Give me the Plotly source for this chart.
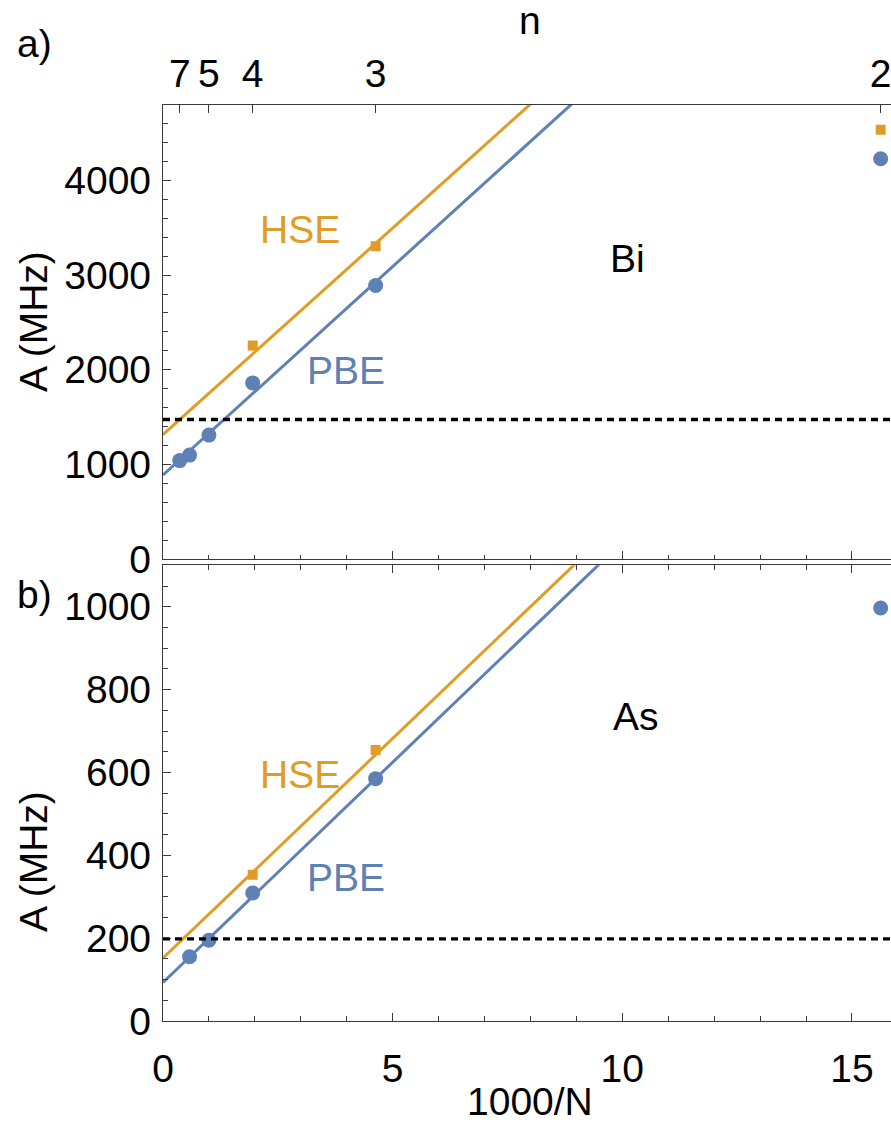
import plotly.graph_objects as go

# Hyperfine constant A (MHz) versus supercell size N (atoms), N = 8 n^3
bi_pbe_N = [2744, 1728, 1000, 512, 216, 64]
bi_pbe_A = [1042, 1100, 1311, 1862, 2890, 4228]
bi_hse_N = [512, 216, 64]
bi_hse_A = [2256, 3305, 4534]

as_pbe_N = [1728, 1000, 512, 216, 64]
as_pbe_A = [155, 195, 309, 585, 997]
as_hse_N = [512, 216]
as_hse_A = [353, 654]

# Linear extrapolations to infinite cell: (intercept, slope) vs 1000/N
bi_pbe_fit = (890, 440)
bi_hse_fit = (1316, 436)
as_pbe_fit = (93, 106.3)
as_hse_fit = (152, 106)

# Experimental hyperfine constants
bi_exp = 1475.4
as_exp = 198.35

# Top axis: shell index n and matching supercell size
n_labels = ["7", "5", "4", "3", "2"]
n_N = [2744, 1000, 512, 216, 64]

ORANGE = "#E09C24"
BLUE = "#5E81B5"
FRAME = "#3a3a3a"
FONT = "Liberation Sans, Arial, sans-serif"
FS = 39

X_MAX = 15.85
Y1_MAX = 4795
Y2_MAX = 1100

W, H = 891, 1129
M_L, M_R, M_T, M_B = 163, 0, 105, 108


def inv(N):
    return [1000.0 / v for v in N]


def fit_line(fit):
    a, b = fit
    xs = [0, X_MAX]
    return xs, [a + b * x for x in xs]


fig = go.Figure()


def add_panel(xa, ya, pbe_N, pbe_A, hse_N, hse_A, pbe_fit, hse_fit):
    for fit, color in ((hse_fit, ORANGE), (pbe_fit, BLUE)):
        xs, ys = fit_line(fit)
        fig.add_trace(go.Scatter(x=xs, y=ys, mode="lines", xaxis=xa, yaxis=ya,
                                 line=dict(color=color, width=3), hoverinfo="skip"))
    fig.add_trace(go.Scatter(x=inv(hse_N), y=hse_A, mode="markers", xaxis=xa, yaxis=ya,
                             marker=dict(symbol="square", size=10, color=ORANGE)))
    fig.add_trace(go.Scatter(x=inv(pbe_N), y=pbe_A, mode="markers", xaxis=xa, yaxis=ya,
                             marker=dict(symbol="circle", size=15, color=BLUE)))


add_panel("x", "y", bi_pbe_N, bi_pbe_A, bi_hse_N, bi_hse_A, bi_pbe_fit, bi_hse_fit)
add_panel("x2", "y2", as_pbe_N, as_pbe_A, as_hse_N, as_hse_A, as_pbe_fit, as_hse_fit)

# Experimental reference lines
for xd, yref, val in (("x domain", "y", bi_exp), ("x2 domain", "y2", as_exp)):
    fig.add_shape(type="line", xref=xd, yref=yref, x0=0, x1=1, y0=val, y1=val,
                  line=dict(color="black", width=3.4, dash="7px,5px"))

tickfont = dict(family=FONT, size=FS, color="black")
common_x = dict(range=[0, X_MAX], showline=True, linecolor=FRAME, linewidth=1.3,
                showgrid=False, zeroline=False, automargin=False,
                ticklabeloverflow="allow")
common_y = dict(showline=True, linecolor=FRAME, linewidth=1.3, showgrid=False,
                zeroline=False, automargin=False, ticks="inside", ticklen=8,
                tickcolor=FRAME, tickwidth=1.2, tickfont=tickfont, ticklabelstandoff=3)

minor_x = dict(dtick=1, ticklen=4.5, ticks="inside", tickcolor=FRAME, tickwidth=1.2)

D_SPLIT_TOP = 0.504
D_SPLIT_BOT = 0.4975

fig.update_layout(
    width=W, height=H,
    margin=dict(l=M_L, r=M_R, t=M_T, b=M_B),
    paper_bgcolor="white", plot_bgcolor="white",
    showlegend=False,
    font=dict(family=FONT, size=FS, color="black"),
    xaxis=dict(**common_x, anchor="y", domain=[0, 1], ticks="inside", dtick=5, ticklen=8,
               tickcolor=FRAME, tickwidth=1.2, showticklabels=False, minor=minor_x),
    xaxis2=dict(**common_x, anchor="y2", domain=[0, 1], ticks="inside", dtick=5, ticklen=8,
                tickcolor=FRAME, tickwidth=1.2, tickfont=tickfont, minor=minor_x,
                ticklabelstandoff=13),
    xaxis3=dict(**common_x, anchor="y", overlaying="x", side="top", ticks="inside",
                ticklen=8, tickcolor=FRAME, tickwidth=1.2, tickmode="array",
                tickvals=inv(n_N), ticktext=n_labels, tickfont=tickfont,
                ticklabelstandoff=1),
    xaxis4=dict(**common_x, anchor="y2", overlaying="x2", side="top", ticks="inside",
                dtick=5, ticklen=8, tickcolor=FRAME, tickwidth=1.2,
                showticklabels=False, minor=minor_x),
    yaxis=dict(**common_y, domain=[D_SPLIT_TOP, 1], range=[0, Y1_MAX], dtick=1000,
               minor=dict(dtick=200, ticklen=4.5, ticks="inside", tickcolor=FRAME,
                          tickwidth=1.2)),
    yaxis2=dict(**common_y, domain=[0, D_SPLIT_BOT], range=[0, Y2_MAX], dtick=200,
                minor=dict(dtick=50, ticklen=4.5, ticks="inside", tickcolor=FRAME,
                           tickwidth=1.2)),
)

# Invisible traces so the overlay axes are drawn
fig.add_trace(go.Scatter(x=[None], y=[None], xaxis="x3", yaxis="y", showlegend=False))
fig.add_trace(go.Scatter(x=[None], y=[None], xaxis="x4", yaxis="y2", showlegend=False))

ann = []
# Series labels inside panels
ann.append(dict(text="HSE", x=2.98, y=3484, xref="x", yref="y", font=dict(color=ORANGE)))
ann.append(dict(text="PBE", x=3.98, y=1989, xref="x", yref="y", font=dict(color=BLUE)))
ann.append(dict(text="Bi", x=10.12, y=3179, xref="x", yref="y"))
ann.append(dict(text="HSE", x=2.98, y=596, xref="x2", yref="y2", font=dict(color=ORANGE)))
ann.append(dict(text="PBE", x=3.98, y=346, xref="x2", yref="y2", font=dict(color=BLUE)))
ann.append(dict(text="As", x=10.3, y=736, xref="x2", yref="y2"))

# Axis titles and panel tags, placed by page position
PW = W - M_L - M_R
PH = H - M_T - M_B


def px(xp, yp):
    return dict(x=(xp - M_L) / PW, y=(H - M_B - yp) / PH, xref="paper", yref="paper")


ann.append(dict(text="n", **px(530, 21)))
ann.append(dict(text="1000/N", **px(530, 1101)))
ann.append(dict(text="A (MHz)", textangle=-90, **px(33, 322)))
ann.append(dict(text="A (MHz)", textangle=-90, **px(33, 862)))
ann.append(dict(text="a)", **px(34, 44)))
ann.append(dict(text="b)", **px(34, 594)))

for a in ann:
    a.setdefault("showarrow", False)
    a.setdefault("xanchor", "center")
    a.setdefault("yanchor", "middle")
    f = dict(family=FONT, size=FS, color="black")
    f.update(a.get("font", {}))
    a["font"] = f
fig.update_layout(annotations=ann)

fig.write_html("out.html")
